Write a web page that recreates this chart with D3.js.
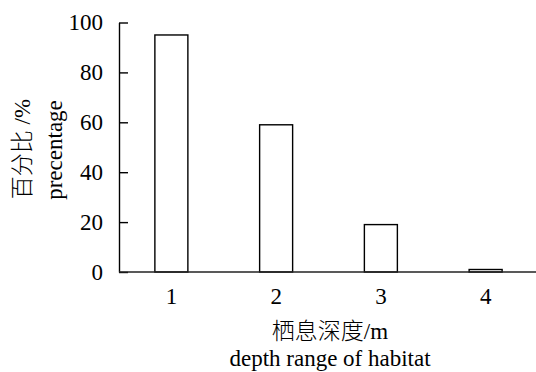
<!DOCTYPE html>
<html>
<head>
<meta charset="utf-8">
<script src="https://cdn.jsdelivr.net/npm/d3@7"></script>
<style>
  html, body { margin: 0; padding: 0; background: #fff; }
  svg { display: block; }
</style>
</head>
<body>
<svg id="chart" width="536" height="372"></svg>
<script>
const categories = ["1", "2", "3", "4"];
const values = [95, 59, 19, 1];
const yTicks = [0, 20, 40, 60, 80, 100];
const yTitleLines = [["百分比", " /%"], ["precentage"]];
const xTitleLines = [["栖息深度", "/m"], ["depth range of habitat"]];

const SERIF = '"Liberation Serif", "Times New Roman", Times, "DejaVu Serif", serif';
const CJK = '"Noto Sans CJK SC", "Noto Sans CJK JP", sans-serif';
const fontSize = 23;

const svg = d3.select("#chart");

const x = d3.scaleBand()
  .domain(categories)
  .range([119, 538])
  .paddingInner(0.685)
  .paddingOuter(0.3425);

const y = d3.scaleLinear()
  .domain([0, 100])
  .range([272, 22.5]);

// Bars
svg.append("g")
  .selectAll("rect")
  .data(values)
  .join("rect")
  .attr("x", (d, i) => x(categories[i]))
  .attr("y", d => y(d))
  .attr("width", x.bandwidth())
  .attr("height", d => y(0) - y(d))
  .attr("fill", "#fff")
  .attr("stroke", "#000")
  .attr("stroke-width", 1.4);

function styleText(sel) {
  sel.style("font-family", SERIF).style("font-size", fontSize + "px").style("fill", "#000");
}

// Y axis
const yAxis = svg.append("g")
  .attr("transform", "translate(119,0)")
  .call(d3.axisLeft(y).tickValues(yTicks).tickSizeInner(-9).tickSizeOuter(0).tickPadding(16));
yAxis.select(".domain").attr("stroke", "#000").attr("stroke-width", 1.4);
yAxis.selectAll(".tick line").attr("stroke", "#000").attr("stroke-width", 1.4);
yAxis.selectAll("text").call(styleText);

// X axis
const xAxis = svg.append("g")
  .attr("transform", `translate(0,${y(0)})`)
  .call(d3.axisBottom(x).tickSize(0).tickPadding(16));
xAxis.select(".domain").remove();
xAxis.selectAll("text").call(styleText);
xAxis.append("line")
  .attr("x1", 119).attr("x2", 536)
  .attr("y1", 0).attr("y2", 0)
  .attr("stroke", "#222").attr("stroke-width", 1.6);

function addTitle(parts, transform) {
  const t = svg.append("text")
    .attr("transform", transform)
    .attr("text-anchor", "middle")
    .call(styleText);
  parts.forEach(p => {
    const isCJK = /[\u4e00-\u9fff]/.test(p);
    const ts = t.append("tspan").text(p);
    if (isCJK) ts.style("font-family", CJK).style("font-weight", 300);
  });
  return t;
}

// X title
addTitle(xTitleLines[0], "translate(330,339)");
addTitle(xTitleLines[1], "translate(330,366)");

// Y title (rotated)
addTitle(yTitleLines[0], "translate(30,149) rotate(-90)");
addTitle(yTitleLines[1], "translate(62,150) rotate(-90)");
</script>
</body>
</html>
